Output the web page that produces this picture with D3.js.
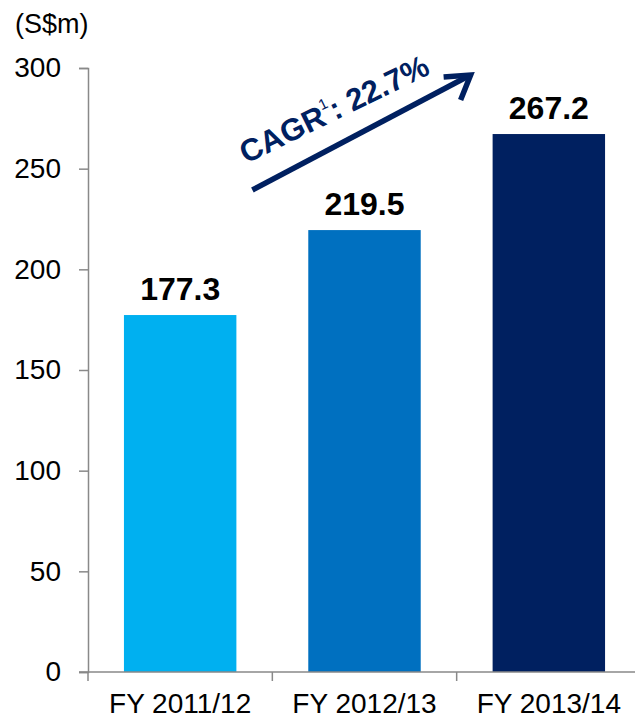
<!DOCTYPE html>
<html>
<head>
<meta charset="utf-8">
<script src="https://cdn.jsdelivr.net/npm/d3@7"></script>
<style>
  body { margin: 0; background: #fff; }
  text { font-family: Arial, "Liberation Sans", sans-serif; }
</style>
</head>
<body>
<div id="chart"></div>
<script>
"use strict";

// data
const years = ["FY 2011/12", "FY 2012/13", "FY 2013/14"];
const revenue = [177.3, 219.5, 267.2];
const barColors = ["#00B0F0", "#0070C0", "#002060"];
const yTicks = [0, 50, 100, 150, 200, 250, 300];
const cagrLabel = "22.7%";

const width = 635, height = 721;
const margin = {top: 68, right: -6, bottom: 49, left: 88};

const svg = d3.select("#chart").append("svg")
    .attr("width", width)
    .attr("height", height);

const x = d3.scaleBand()
    .domain(years)
    .range([margin.left, width - margin.right])
    .paddingInner(0.39)
    .paddingOuter(0.195);

const y = d3.scaleLinear()
    .domain([0, 300])
    .range([height - margin.bottom, margin.top]);

// y axis
const yAxis = svg.append("g")
    .attr("transform", "translate(" + margin.left + ",0)")
    .call(d3.axisLeft(y).tickValues(yTicks).tickSize(9).tickPadding(18));
yAxis.select(".domain").attr("stroke", "#898989").attr("stroke-width", 1.5);
yAxis.selectAll(".tick line").attr("stroke", "#898989").attr("stroke-width", 1.5);
yAxis.selectAll(".tick text")
    .attr("font-size", 28)
    .attr("fill", "#000")
    .style("font-family", "Arial, 'Liberation Sans', sans-serif");

svg.append("text")
    .attr("x", 15)
    .attr("y", 33)
    .attr("font-size", 27)
    .text("(S$m)");

// bars
svg.selectAll("rect.bar")
    .data(revenue)
    .enter().append("rect")
    .attr("class", "bar")
    .attr("x", (d, i) => x(years[i]))
    .attr("y", d => y(d))
    .attr("width", x.bandwidth())
    .attr("height", d => y(0) - y(d))
    .attr("fill", (d, i) => barColors[i]);

// value labels
svg.selectAll("text.val")
    .data(revenue)
    .enter().append("text")
    .attr("class", "val")
    .attr("x", (d, i) => x(years[i]) + x.bandwidth() / 2)
    .attr("y", d => y(d) - 15)
    .attr("text-anchor", "middle")
    .attr("font-size", 32)
    .attr("font-weight", "bold")
    .text(d => d.toFixed(1));

// x axis
const step = x.step();
const xAxisG = svg.append("g");
xAxisG.append("line")
    .attr("x1", margin.left - 9).attr("x2", width)
    .attr("y1", y(0)).attr("y2", y(0))
    .attr("stroke", "#898989").attr("stroke-width", 1.5);
const bounds = years.map(d => x(d) - x.paddingOuter() * step);
xAxisG.selectAll("line.tk")
    .data(bounds)
    .enter().append("line")
    .attr("class", "tk")
    .attr("x1", d => d).attr("x2", d => d)
    .attr("y1", y(0)).attr("y2", y(0) + 9)
    .attr("stroke", "#898989").attr("stroke-width", 1.5);
xAxisG.selectAll("text")
    .data(years)
    .enter().append("text")
    .attr("x", d => x(d) + x.bandwidth() / 2)
    .attr("y", y(0) + 41)
    .attr("text-anchor", "middle")
    .attr("font-size", 28)
    .text(d => d);

// CAGR arrow
const navy = "#002060";
const a0 = [x(years[0]) + x.bandwidth() + 16, y(revenue[2]) + 56];
const a1 = [x(years[2]) - 22, y(revenue[2]) - 59];
svg.append("line")
    .attr("x1", a0[0]).attr("y1", a0[1])
    .attr("x2", a1[0] - 4).attr("y2", a1[1] + 2)
    .attr("stroke", navy).attr("stroke-width", 5.5);
svg.append("path")
    .attr("d", "M" + (a1[0] - 27) + "," + (a1[1] + 2) + " L" + a1[0] + "," + a1[1] + " L" + (a1[0] - 10) + "," + (a1[1] + 25))
    .attr("fill", "none")
    .attr("stroke", navy)
    .attr("stroke-width", 5.5)
    .attr("stroke-linejoin", "miter");

const cagr = svg.append("text")
    .attr("transform", "translate(246,164) rotate(-26)")
    .attr("font-size", 31)
    .attr("font-weight", "bold")
    .attr("fill", navy);
cagr.append("tspan").text("CAGR");
cagr.append("tspan").attr("font-size", 15).attr("font-weight", "normal").attr("dy", -15).text("1");
cagr.append("tspan").attr("dy", 15).text(": " + cagrLabel);
</script>
</body>
</html>
